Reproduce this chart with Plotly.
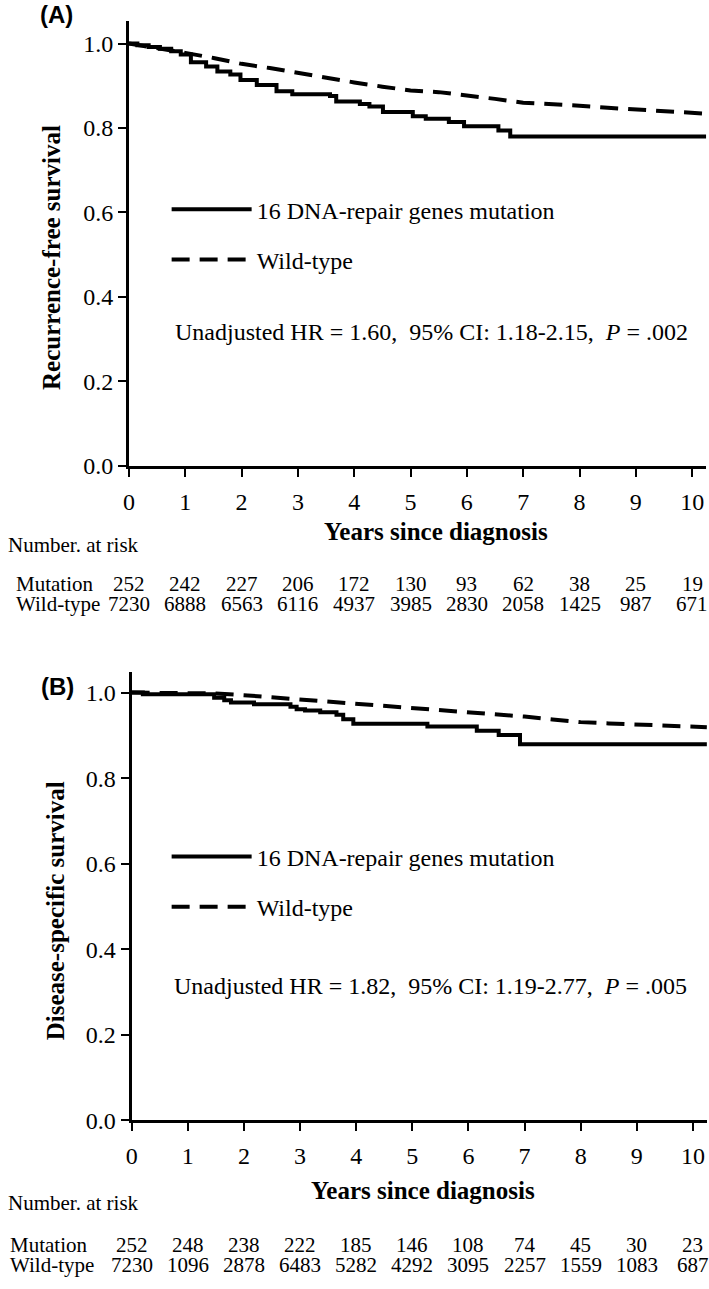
import plotly.graph_objects as go

# ---- data ----
years = list(range(0, 11))

# (A) recurrence-free survival
rfs_mut_t = [0, 0.15, 0.35, 0.55, 0.75, 0.92, 1.10, 1.37, 1.57, 1.80, 1.98, 2.27, 2.62, 2.90,
             3.57, 3.68, 4.10, 4.27, 4.51, 5.04, 5.27, 5.68, 5.95, 6.56, 6.77, 10.25]
rfs_mut_s = [1.0, 0.996, 0.992, 0.988, 0.982, 0.974, 0.956, 0.946, 0.934, 0.927, 0.914, 0.902, 0.887, 0.880,
             0.876, 0.863, 0.857, 0.851, 0.838, 0.828, 0.822, 0.814, 0.804, 0.794, 0.780, 0.780]
rfs_wt_t = [0, 0.5, 1.0, 1.5, 2.0, 2.5, 3.0, 3.5, 4.0, 4.5, 5.0, 5.5, 6.0, 6.5, 7.0, 7.5, 8.0, 8.5, 9.0, 9.5, 10.25]
rfs_wt_s = [1.0, 0.99, 0.978, 0.966, 0.952, 0.942, 0.930, 0.920, 0.908, 0.898, 0.889, 0.885, 0.878, 0.869,
            0.860, 0.857, 0.853, 0.848, 0.844, 0.840, 0.834]
rfs_risk_mut = [252, 242, 227, 206, 172, 130, 93, 62, 38, 25, 19]
rfs_risk_wt = [7230, 6888, 6563, 6116, 4937, 3985, 2830, 2058, 1425, 987, 671]

# (B) disease-specific survival
dss_mut_t = [0, 0.2, 1.47, 1.65, 1.77, 2.18, 2.83, 2.94, 3.09, 3.36, 3.65, 3.77, 3.95, 5.27, 6.15, 6.54, 6.92, 10.25]
dss_mut_s = [1.0, 0.996, 0.988, 0.982, 0.977, 0.973, 0.967, 0.961, 0.958, 0.954, 0.948, 0.938, 0.927, 0.921,
             0.911, 0.901, 0.879, 0.879]
dss_wt_t = [0, 0.5, 1.0, 1.5, 2.0, 2.5, 3.0, 3.5, 4.0, 4.5, 5.0, 5.5, 6.0, 6.5, 7.0, 7.5, 8.0, 8.5, 9.0, 9.5, 10.25]
dss_wt_s = [1.0, 1.0, 0.999, 0.998, 0.994, 0.989, 0.984, 0.979, 0.975, 0.970, 0.964, 0.958, 0.953, 0.949,
            0.944, 0.937, 0.931, 0.928, 0.926, 0.923, 0.919]
dss_risk_mut = [252, 248, 238, 222, 185, 146, 108, 74, 45, 30, 23]
dss_risk_wt = [7230, 1096, 2878, 6483, 5282, 4292, 3095, 2257, 1559, 1083, 687]

hr_a = "Unadjusted HR = 1.60, &nbsp;95% CI: 1.18-2.15, &nbsp;<i>P</i> = .002"
hr_b = "Unadjusted HR = 1.82, &nbsp;95% CI: 1.19-2.77, &nbsp;<i>P</i> = .005"

W, H = 709, 1289
SERIF = "Liberation Serif"
SANS = "Liberation Sans"
DASH = "18px,10px"


def px(x):
    return x / W


def py(y):
    return (H - y) / H


fig = go.Figure()

for xa, ya, leg, mt, ms, wt, ws in [
    ("x", "y", "legend", rfs_mut_t, rfs_mut_s, rfs_wt_t, rfs_wt_s),
    ("x2", "y2", "legend2", dss_mut_t, dss_mut_s, dss_wt_t, dss_wt_s),
]:
    fig.add_trace(go.Scatter(x=mt, y=ms, mode="lines", line=dict(color="black", width=4, shape="hv"),
                             name="16 DNA-repair genes mutation", xaxis=xa, yaxis=ya, legend=leg,
                             legendgroup=leg + "m"))
    fig.add_trace(go.Scatter(x=wt, y=ws, mode="lines", line=dict(color="black", width=4, dash=DASH),
                             name="Wild-type", xaxis=xa, yaxis=ya, legend=leg, legendgroup=leg + "w"))

xcommon = dict(range=[0, 10.25], tickvals=years, showline=True, linewidth=3, linecolor="black",
               ticks="outside", ticklen=8, tickwidth=2, tickcolor="black", showgrid=False, zeroline=False,
               tickfont=dict(family=SERIF, size=24, color="black"), ticklabelstandoff=4)
ycommon = dict(tickvals=[0, 0.2, 0.4, 0.6, 0.8, 1.0], tickformat=".1f", showline=True, linewidth=3,
               linecolor="black", ticks="outside", ticklen=8, tickwidth=2, tickcolor="black",
               showgrid=False, zeroline=False, tickfont=dict(family=SERIF, size=24, color="black"))

legcommon = dict(font=dict(family=SERIF, size=24, color="black"), itemwidth=80, tracegroupgap=16,
                 bgcolor="rgba(0,0,0,0)", xanchor="left", yanchor="top", itemclick=False)

fig.update_layout(
    width=W, height=H, autosize=False,
    margin=dict(l=0, r=0, t=0, b=0),
    font=dict(family=SERIF, color="black"),
    paper_bgcolor="white", plot_bgcolor="white",
    xaxis=dict(domain=[px(124), px(706.2)], anchor="y", **xcommon),
    yaxis=dict(domain=[py(470.5), py(21)], range=[0, 1.054], anchor="x", **ycommon),
    xaxis2=dict(domain=[px(126.7), px(706.9)], anchor="y2", **xcommon),
    yaxis2=dict(domain=[py(1131.7), py(678.5)], range=[0, 1.049], anchor="x2", **ycommon),
    legend=dict(x=px(162), y=py(189), **legcommon),
    legend2=dict(x=px(162), y=py(843), **legcommon),
    showlegend=True,
)

ann = []


def txt(x, y, s, size=21, bold=False, xanchor="center", family=SERIF, angle=0, xref="paper"):
    ann.append(dict(x=x, y=py(y), xref=xref, yref="paper", text=("<b>%s</b>" % s) if bold else s,
                    showarrow=False, xanchor=xanchor, yanchor="middle", textangle=angle,
                    font=dict(family=family, size=size, color="black")))


# panel labels and titles
txt(px(51), 15, "(A)", size=24, bold=True, family=SANS)
txt(px(51.5), 693, "(B)", size=24, bold=True, family=SANS)
txt(px(46), 260, "Recurrence-free survival", size=25, bold=True, angle=-90)
txt(px(50), 920, "Disease-specific survival", size=25, bold=True, angle=-90)
txt(px(434), 537, "Years since diagnosis", size=25, bold=True)
txt(px(421), 1203, "Years since diagnosis", size=25, bold=True)
txt(px(168), 335, hr_a, size=24, xanchor="left")
txt(px(167), 996, hr_b, size=24, xanchor="left")

# numbers at risk
txt(0, 551, "Number. at risk", xanchor="left")
txt(px(8), 590, "Mutation", xanchor="left")
txt(px(8), 610, "Wild-type", xanchor="left")
txt(0, 1215, "Number. at risk", xanchor="left")
txt(px(2), 1258, "Mutation", xanchor="left")
txt(px(2), 1278, "Wild-type", xanchor="left")
for yr, m, w in zip(years, rfs_risk_mut, rfs_risk_wt):
    txt(yr, 590, str(m), xref="x")
    txt(yr, 610, str(w), xref="x")
for yr, m, w in zip(years, dss_risk_mut, dss_risk_wt):
    txt(yr, 1258, str(m), xref="x2")
    txt(yr, 1278, str(w), xref="x2")

fig.update_layout(annotations=ann)

fig.write_html("out.html", config={"displayModeBar": False},
               post_script="document.body.style.margin='0';document.body.style.overflow='hidden';")
